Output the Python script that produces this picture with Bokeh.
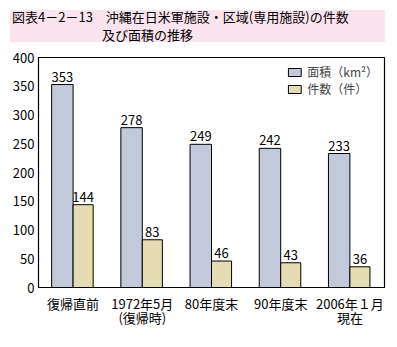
from bokeh.plotting import figure
from bokeh.models import Range1d, FactorRange, ColumnDataSource, Div, Legend, LegendItem, FixedTicker
from bokeh.transform import dodge
from bokeh.layouts import column
from bokeh.core.properties import value
from bokeh.embed import file_html
from bokeh.resources import INLINE

categories = ["復帰直前", "1972年5月\n(復帰時)", "80年度末", "90年度末", "2006年１月\n現在"]
area = [353, 278, 249, 242, 233]
count = [144, 83, 46, 43, 36]
y_ticks = [0, 50, 100, 150, 200, 250, 300, 350, 400]

FONT = "Noto Sans CJK JP"
BLUE = "#C1C9DB"
TAN = "#E6DCB3"

src = ColumnDataSource(dict(cat=categories, area=area, count=count,
                            area_s=[str(v) for v in area], count_s=[str(v) for v in count]))

title = Div(text="<div style='line-height:14px;white-space:nowrap'>図表4－2－13　沖縄在日米軍施設・区域(専用施設)の件数</div>"
                 "<div style='line-height:14px;margin-top:4px;padding-left:90px;white-space:nowrap'>及び面積の推移</div>",
            width=375, height=32, margin=(10, 0, 0, 10),
            styles={"background-color": "#FCE4EF", "font-family": FONT, "font-size": "13px",
                    "padding-left": "2px", "padding-top": "0px",
                    "color": "#000000", "box-sizing": "border-box"})

p = figure(width=397, height=305, x_range=FactorRange(*categories), y_range=Range1d(0, 400),
           output_backend="svg", toolbar_location=None, min_border_left=38, min_border_right=13,
           min_border_top=15, min_border_bottom=60, margin=(0, 0, 0, 0))
p.outline_line_color = "black"
p.outline_line_width = 1.2
p.xgrid.visible = False
p.ygrid.visible = False

r1 = p.vbar(x=dodge("cat", -0.155, range=p.x_range), top="area", width=0.31, source=src,
            fill_color=BLUE, line_color="black", line_width=1)
r2 = p.vbar(x=dodge("cat", 0.145, range=p.x_range), top="count", width=0.29, source=src,
            fill_color=TAN, line_color="black", line_width=1)

for col, off in (("area", -0.155), ("count", 0.145)):
    p.text(x=dodge("cat", off, range=p.x_range), y=col, text=col + "_s", source=src,
           text_align="center", text_baseline="bottom", y_offset=-3,
           text_font=value(FONT), text_font_size="13px", text_color="black")

p.yaxis.ticker = FixedTicker(ticks=y_ticks)
for ax in (p.xaxis, p.yaxis):
    ax.major_tick_line_color = None
    ax.minor_tick_line_color = None
    ax.major_tick_out = 0
    ax.axis_line_color = "black"
    ax.major_label_text_font = FONT
    ax.major_label_text_font_size = "13px"
    ax.major_label_text_color = "black"
p.yaxis.major_label_standoff = 4
p.xaxis.major_label_standoff = 6
p.xaxis.major_label_text_line_height = 0.75

legend = Legend(items=[LegendItem(label="面積（km²）", renderers=[r1]),
                       LegendItem(label="件数（件）", renderers=[r2])],
                location="top_right", border_line_color=None, background_fill_alpha=0,
                label_text_font=FONT, label_text_font_size="12px", glyph_width=16, glyph_height=10,
                label_height=12, spacing=0, padding=3, margin=6, label_standoff=5)
p.add_layout(legend)

layout = column(title, p, spacing=0)
open("out.html", "w").write(file_html(layout, INLINE))
